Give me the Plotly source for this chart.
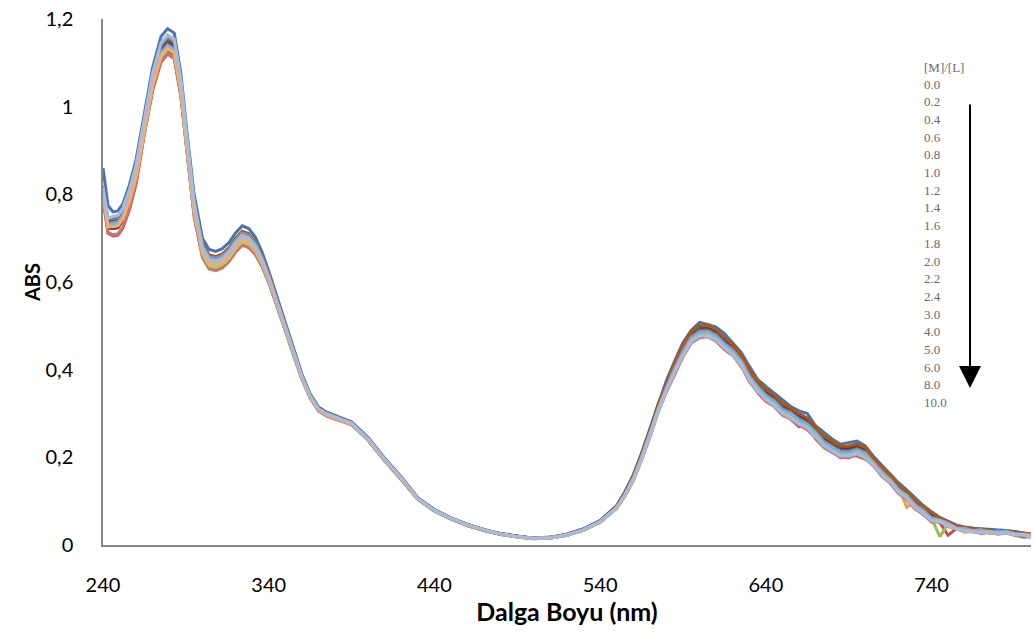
import plotly.graph_objects as go

# Wavelength grid (nm)
WAVELENGTH = [240, 243, 246, 249, 252, 256, 260, 265, 270, 275, 279, 283, 287, 291, 295,
              300, 304, 308, 312, 316, 320, 324, 328, 332, 336, 340, 345, 350, 355, 360, 365, 370, 375, 380,
              390, 400, 410, 420, 430, 440, 450, 460, 470, 480, 490, 500, 510, 520, 530, 540,
              550, 555, 560, 565, 570, 575, 580, 585, 590, 595, 600, 605, 610, 615, 620,
              625, 630, 635, 640, 645, 650, 655, 660, 665, 670, 675, 680, 685, 690, 695, 700,
              705, 710, 715, 720, 725, 730, 735, 740, 745, 750, 755, 760, 765, 770, 775, 780, 785, 790, 795, 800]

# [M]/[L] ratios (legend labels)
LABELS = ["0.0", "0.2", "0.4", "0.6", "0.8", "1.0", "1.2", "1.4", "1.6", "1.8",
          "2.0", "2.2", "2.4", "3.0", "4.0", "5.0", "6.0", "8.0", "10.0"]

COLORS = ["#4A74B0", "#C0504D", "#9BBB59", "#8064A2", "#4BACC6", "#F79646",
          "#2C4D75", "#772C2A", "#5F7530", "#4D3B62", "#276A7C", "#B65708",
          "#729ACA", "#CD7371", "#AFC97A", "#9983B5", "#6FBDD1", "#F9AB6B", "#A6BBDD"]

# Absorbance in milli-absorbance units (mAU), one list per [M]/[L] ratio
MAU_0_0 = [860, 775, 760, 762, 778, 822, 880, 985, 1090, 1160, 1178, 1168, 1075, 930, 800,
           700, 674, 670, 676, 690, 712, 728, 722, 702, 668, 625, 565, 505, 445, 390, 345, 315, 303, 296,
           281, 245, 198, 155, 108, 81, 62, 47, 35, 26, 20, 16, 18, 25, 37, 56,
           90, 122, 160, 210, 265, 325, 375, 420, 462, 490, 508, 503, 497, 482, 462,
           440, 408, 378, 362, 346, 332, 316, 306, 300, 272, 256, 242, 230, 234, 237, 226,
           202, 182, 162, 142, 126, 108, 90, 76, 63, 54, 46, 41, 38, 37, 36, 34, 33, 31, 28, 25]
MAU_0_2 = [790, 711, 705, 707, 723, 766, 824, 939, 1038, 1102, 1120, 1110, 1023, 884, 750,
           658, 632, 628, 634, 648, 670, 686, 680, 664, 636, 600, 546, 490, 432, 380, 336, 307, 295, 288,
           275, 239, 192, 149, 104, 77, 59, 44, 33, 24, 18, 14, 16, 22, 34, 52,
           84, 113, 148, 195, 247, 304, 351, 393, 432, 462, 475, 477, 466, 447, 435,
           408, 381, 348, 328, 320, 301, 287, 270, 272, 242, 223, 217, 199, 206, 203, 196,
           183, 158, 142, 119, 108, 86, 69, 59, 51, 22, 38, 30, 32, 27, 29, 25, 28, 23, 18, 19]
MAU_0_4 = [800, 727, 730, 732, 748, 788, 841, 947, 1047, 1112, 1130, 1120, 1032, 892, 757,
           662, 636, 632, 638, 652, 674, 690, 684, 668, 639, 602, 548, 492, 434, 380, 337, 307, 295, 288,
           276, 240, 193, 150, 105, 78, 60, 45, 33, 25, 19, 14, 16, 22, 34, 53,
           86, 115, 151, 199, 252, 310, 357, 400, 438, 471, 483, 485, 474, 455, 442,
           419, 382, 361, 338, 326, 307, 298, 283, 273, 256, 232, 221, 211, 209, 215, 206,
           189, 164, 150, 125, 112, 89, 79, 60, 19, 48, 37, 37, 30, 32, 26, 28, 30, 23, 23, 18]
MAU_0_6 = [810, 738, 742, 744, 760, 802, 857, 963, 1065, 1132, 1150, 1140, 1050, 908, 776,
           680, 654, 650, 656, 670, 692, 708, 702, 684, 653, 613, 556, 498, 439, 385, 341, 311, 299, 292,
           278, 242, 195, 152, 106, 79, 61, 46, 34, 25, 20, 15, 17, 23, 35, 54,
           88, 118, 155, 204, 258, 317, 365, 409, 449, 481, 494, 495, 485, 467, 452,
           429, 394, 369, 349, 336, 317, 308, 294, 284, 263, 243, 231, 220, 220, 225, 217,
           195, 172, 156, 133, 118, 97, 85, 67, 59, 48, 44, 36, 35, 31, 34, 30, 32, 26, 25, 23]
MAU_0_8 = [805, 734, 740, 742, 758, 800, 854, 959, 1061, 1128, 1146, 1136, 1046, 904, 773,
           678, 652, 648, 654, 668, 690, 706, 700, 682, 651, 612, 555, 497, 438, 384, 340, 311, 299, 292,
           278, 242, 195, 152, 106, 79, 60, 46, 34, 25, 19, 15, 16, 23, 35, 53,
           86, 117, 153, 201, 254, 312, 361, 404, 442, 475, 489, 481, 481, 464, 441,
           423, 388, 363, 340, 330, 313, 295, 292, 282, 249, 241, 225, 210, 218, 218, 208,
           190, 167, 152, 128, 115, 92, 77, 67, 57, 51, 39, 37, 36, 31, 33, 29, 31, 27, 22, 22]
MAU_1_0 = [815, 742, 744, 746, 762, 804, 860, 966, 1068, 1136, 1154, 1144, 1053, 911, 781,
           686, 660, 656, 662, 676, 698, 714, 708, 689, 657, 617, 559, 500, 441, 386, 342, 312, 300, 293,
           279, 243, 196, 153, 107, 80, 61, 46, 35, 26, 19, 15, 17, 24, 35, 54,
           88, 119, 156, 205, 259, 318, 367, 411, 451, 483, 496, 497, 487, 469, 454,
           431, 396, 371, 351, 338, 319, 310, 296, 286, 267, 245, 233, 222, 222, 227, 219,
           196, 173, 157, 134, 86, 98, 86, 69, 60, 49, 44, 37, 37, 34, 31, 32, 29, 30, 25, 23]
MAU_1_2 = [810, 736, 738, 740, 756, 798, 854, 961, 1063, 1130, 1148, 1138, 1048, 906, 776,
           682, 656, 652, 658, 672, 694, 710, 704, 686, 654, 614, 557, 499, 440, 385, 341, 311, 299, 292,
           278, 242, 196, 153, 106, 80, 61, 46, 34, 26, 20, 15, 17, 24, 35, 54,
           88, 120, 157, 206, 260, 319, 369, 413, 453, 485, 498, 499, 489, 471, 456,
           433, 398, 374, 353, 340, 321, 311, 298, 288, 269, 247, 235, 224, 224, 229, 221,
           197, 174, 159, 135, 122, 99, 84, 74, 60, 53, 42, 39, 38, 34, 35, 30, 31, 31, 25, 24]
MAU_1_4 = [798, 723, 722, 724, 740, 783, 838, 949, 1049, 1115, 1133, 1123, 1034, 894, 762,
           670, 644, 640, 646, 660, 682, 698, 692, 675, 645, 607, 551, 494, 436, 382, 338, 309, 297, 290,
           276, 241, 194, 151, 105, 79, 60, 45, 34, 25, 19, 15, 16, 23, 34, 53,
           87, 118, 154, 203, 257, 315, 364, 407, 446, 479, 491, 493, 483, 464, 450,
           427, 392, 367, 347, 334, 315, 306, 292, 282, 263, 241, 229, 218, 218, 223, 215,
           193, 170, 154, 131, 116, 95, 83, 65, 58, 47, 43, 35, 36, 32, 33, 28, 31, 27, 27, 22]
MAU_1_6 = [802, 729, 732, 734, 750, 790, 841, 945, 1045, 1110, 1128, 1118, 1030, 890, 758,
           666, 640, 636, 642, 656, 678, 694, 688, 671, 642, 605, 550, 493, 435, 381, 337, 308, 296, 289,
           276, 240, 194, 151, 105, 79, 60, 46, 34, 25, 19, 15, 17, 23, 34, 53,
           86, 116, 152, 200, 253, 311, 359, 402, 440, 473, 485, 487, 476, 458, 443,
           421, 385, 361, 340, 328, 308, 300, 285, 275, 257, 234, 223, 212, 211, 217, 209,
           189, 166, 150, 127, 113, 91, 79, 61, 56, 49, 38, 37, 32, 34, 29, 29, 31, 25, 24, 22]
MAU_1_8 = [808, 734, 736, 738, 754, 796, 851, 958, 1059, 1126, 1144, 1134, 1044, 903, 771,
           676, 650, 646, 652, 666, 688, 704, 698, 680, 650, 611, 554, 497, 438, 384, 340, 310, 298, 291,
           277, 242, 195, 152, 106, 79, 61, 46, 34, 25, 20, 15, 17, 23, 35, 53,
           88, 118, 155, 204, 258, 317, 365, 409, 448, 481, 495, 495, 485, 466, 452,
           428, 393, 369, 349, 336, 318, 308, 294, 285, 264, 243, 231, 220, 220, 225, 217,
           194, 172, 155, 133, 118, 97, 84, 67, 59, 48, 43, 36, 36, 33, 33, 29, 32, 27, 26, 22]
MAU_2_0 = [804, 731, 734, 736, 752, 793, 848, 955, 1056, 1122, 1140, 1130, 1041, 900, 768,
           674, 648, 644, 650, 664, 686, 702, 696, 679, 648, 609, 553, 496, 437, 383, 339, 310, 298, 291,
           277, 241, 195, 152, 106, 79, 60, 46, 34, 25, 19, 15, 17, 23, 35, 53,
           87, 117, 154, 202, 255, 314, 362, 406, 444, 477, 491, 491, 481, 462, 448,
           425, 389, 365, 344, 332, 312, 304, 289, 279, 261, 238, 227, 216, 215, 221, 213,
           191, 168, 152, 129, 115, 93, 81, 63, 58, 47, 42, 35, 35, 32, 34, 30, 27, 28, 23, 23]
MAU_2_2 = [818, 744, 746, 748, 764, 807, 862, 967, 1070, 1138, 1156, 1146, 1055, 912, 783,
           688, 662, 658, 664, 678, 700, 716, 710, 691, 659, 618, 560, 501, 441, 387, 342, 313, 301, 294,
           279, 243, 196, 154, 107, 80, 61, 47, 35, 26, 19, 15, 17, 24, 36, 54,
           89, 120, 158, 207, 261, 321, 370, 415, 455, 487, 500, 501, 491, 473, 458,
           435, 400, 376, 355, 342, 323, 313, 300, 290, 271, 249, 237, 226, 226, 231, 223,
           198, 176, 160, 137, 123, 101, 86, 75, 61, 54, 43, 40, 38, 35, 35, 31, 33, 29, 27, 25]
MAU_2_4 = [820, 746, 748, 750, 766, 808, 865, 971, 1074, 1142, 1160, 1150, 1059, 916, 783,
           684, 658, 654, 660, 674, 696, 712, 706, 688, 656, 615, 558, 499, 440, 386, 341, 312, 300, 293,
           278, 243, 196, 153, 106, 80, 61, 46, 35, 25, 19, 16, 17, 24, 35, 54,
           86, 116, 152, 200, 253, 311, 359, 402, 441, 472, 486, 486, 477, 457, 444,
           420, 386, 360, 341, 327, 309, 299, 284, 276, 256, 235, 222, 213, 212, 216, 208,
           188, 167, 149, 126, 114, 92, 78, 62, 56, 49, 39, 36, 32, 33, 30, 31, 28, 27, 22, 22]
MAU_3_0 = [792, 713, 708, 710, 726, 769, 826, 940, 1040, 1104, 1122, 1112, 1025, 885, 750,
           656, 630, 626, 632, 646, 668, 684, 678, 662, 635, 599, 545, 490, 432, 379, 335, 306, 294, 287,
           274, 239, 192, 150, 104, 78, 59, 45, 33, 24, 19, 15, 16, 22, 34, 52,
           84, 112, 147, 194, 246, 303, 349, 391, 429, 461, 473, 475, 465, 446, 432,
           409, 373, 349, 328, 316, 296, 288, 273, 263, 245, 222, 211, 200, 199, 205, 197,
           180, 157, 141, 118, 104, 82, 70, 52, 53, 42, 37, 30, 30, 27, 29, 25, 27, 23, 23, 18]
MAU_4_0 = [800, 726, 728, 730, 746, 787, 841, 948, 1049, 1114, 1132, 1122, 1034, 893, 759,
           664, 638, 634, 640, 654, 676, 692, 686, 670, 641, 603, 549, 492, 434, 381, 337, 308, 296, 289,
           276, 240, 194, 151, 105, 79, 60, 45, 34, 25, 19, 15, 16, 23, 34, 53,
           85, 115, 150, 198, 251, 308, 356, 398, 436, 469, 481, 483, 472, 454, 439,
           417, 381, 357, 336, 324, 304, 296, 281, 271, 253, 230, 219, 208, 207, 213, 205,
           186, 163, 147, 124, 110, 88, 76, 58, 55, 48, 37, 36, 31, 33, 28, 28, 30, 24, 23, 21]
MAU_5_0 = [806, 733, 736, 738, 754, 796, 850, 956, 1058, 1124, 1142, 1132, 1043, 901, 769,
           674, 648, 644, 650, 664, 686, 702, 696, 678, 648, 609, 552, 496, 437, 383, 339, 310, 298, 291,
           277, 242, 195, 152, 106, 79, 61, 46, 34, 25, 19, 15, 17, 23, 35, 53,
           86, 117, 153, 201, 254, 312, 361, 404, 443, 475, 488, 489, 479, 460, 446,
           422, 387, 363, 342, 330, 310, 302, 287, 277, 259, 236, 225, 214, 213, 219, 211,
           190, 167, 151, 128, 114, 92, 80, 62, 57, 50, 39, 38, 33, 35, 30, 30, 32, 26, 25, 23]
MAU_6_0 = [804, 730, 732, 734, 750, 792, 846, 953, 1054, 1120, 1138, 1128, 1039, 898, 766,
           672, 646, 642, 648, 662, 684, 700, 694, 677, 647, 608, 552, 495, 437, 383, 339, 309, 297, 290,
           277, 241, 195, 152, 105, 79, 60, 46, 34, 25, 19, 15, 16, 23, 34, 53,
           86, 115, 151, 199, 252, 310, 357, 400, 438, 471, 483, 485, 474, 456, 441,
           419, 383, 359, 338, 326, 306, 298, 283, 273, 255, 232, 221, 210, 209, 215, 207,
           187, 165, 148, 125, 112, 90, 77, 60, 56, 49, 38, 37, 32, 34, 29, 29, 31, 25, 24, 22]
MAU_8_0 = [802, 726, 726, 728, 744, 786, 841, 950, 1050, 1116, 1134, 1124, 1035, 895, 763,
           670, 644, 640, 646, 660, 682, 698, 692, 675, 646, 607, 551, 493, 436, 382, 338, 309, 297, 290,
           276, 241, 194, 151, 105, 78, 60, 45, 34, 25, 19, 15, 16, 23, 34, 53,
           84, 114, 149, 196, 248, 305, 353, 395, 432, 465, 477, 479, 468, 450, 435,
           413, 377, 353, 332, 320, 300, 292, 277, 267, 249, 226, 215, 204, 203, 209, 201,
           183, 160, 144, 121, 107, 85, 73, 55, 54, 43, 38, 31, 31, 28, 30, 26, 28, 24, 24, 19]
MAU_10_0 = [816, 745, 750, 752, 768, 811, 868, 974, 1077, 1146, 1164, 1154, 1062, 918, 782,
            678, 652, 648, 654, 668, 690, 706, 700, 682, 651, 612, 555, 497, 438, 384, 340, 311, 299, 292,
            278, 242, 195, 153, 106, 79, 61, 46, 34, 25, 19, 15, 17, 23, 35, 53,
            85, 114, 149, 196, 248, 305, 353, 395, 434, 464, 478, 476, 469, 451, 434,
            412, 378, 351, 333, 318, 302, 289, 277, 269, 246, 227, 214, 203, 204, 208, 199,
            182, 161, 143, 122, 107, 87, 72, 56, 54, 46, 37, 33, 31, 29, 30, 27, 27, 24, 23, 19]

SERIES = [MAU_0_0, MAU_0_2, MAU_0_4, MAU_0_6, MAU_0_8, MAU_1_0, MAU_1_2, MAU_1_4, MAU_1_6,
          MAU_1_8, MAU_2_0, MAU_2_2, MAU_2_4, MAU_3_0, MAU_4_0, MAU_5_0, MAU_6_0, MAU_8_0, MAU_10_0]

for lab, s in zip(LABELS, SERIES):
    if len(s) != len(WAVELENGTH):
        raise ValueError(f"series {lab}: {len(s)} values vs {len(WAVELENGTH)}")

fig = go.Figure()
for lab, col, s in zip(LABELS, COLORS, SERIES):
    fig.add_trace(go.Scatter(
        x=WAVELENGTH, y=[v / 1000 for v in s], mode="lines", name=lab,
        line=dict(color=col, width=3), showlegend=False))

# Figure fills the whole 1034x638 window (page body margin removed by post_script below)
W, H = 1034, 638
L, R, T, B = 103, 3, 19, 93
pw, ph = W - L - R, H - T - B

def px(x):
    """window pixel x -> paper fraction"""
    return (x - L) / pw

def py(y):
    """window pixel y -> paper fraction"""
    return (H - B - y) / ph

LEGEND_FONT = dict(family="Liberation Serif", size=13, color="#6a6a6a")
annotations = [dict(x=px(922), y=py(68), xref="paper", yref="paper", text="[M]/[L]",
                    showarrow=False, xanchor="left", yanchor="middle", font=LEGEND_FONT)]
for i, lab in enumerate(LABELS):
    annotations.append(dict(x=px(922), y=py(84 + 17.7 * i), xref="paper", yref="paper",
                            text=lab, showarrow=False, xanchor="left", yanchor="middle",
                            font=LEGEND_FONT))
# downward arrow
annotations.append(dict(x=px(970), y=py(388), xref="paper", yref="paper", text="",
                        showarrow=True, ax=0, ay=-285, axref="pixel", ayref="pixel",
                        arrowhead=2, arrowsize=2.2, arrowwidth=2, arrowcolor="#000000"))

fig.update_layout(
    width=W, height=H,
    margin=dict(l=L, r=R, t=T, b=B, autoexpand=False),
    paper_bgcolor="white", plot_bgcolor="white",
    separators=",.",
    font=dict(family="Lato", color="#000000"),
    annotations=annotations,
)
fig.update_xaxes(range=[240, 800], tick0=240, dtick=100, showgrid=False, zeroline=False,
                 showline=True, linecolor="#868686", linewidth=1.5, ticks="", automargin=False,
                 ticklabeloverflow="allow",
                 ticklabelstandoff=21, tickfont=dict(size=20, family="Lato"),
                 title=dict(text="<b>Dalga Boyu (nm)</b>", font=dict(size=25, family="Lato"), standoff=0))
fig.update_yaxes(range=[0, 1.2], tick0=0, dtick=0.2, showgrid=False, zeroline=False,
                 showline=True, linecolor="#868686", linewidth=1.5, ticks="", automargin=False,
                 ticklabeloverflow="allow",
                 ticklabelstandoff=24, tickfont=dict(size=20, family="Lato"),
                 title=dict(text="<b>ABS</b>", font=dict(size=20, family="Lato"), standoff=0))

fig.write_html("out.html", config={"displayModeBar": False},
               post_script="document.body.style.margin='0';")
